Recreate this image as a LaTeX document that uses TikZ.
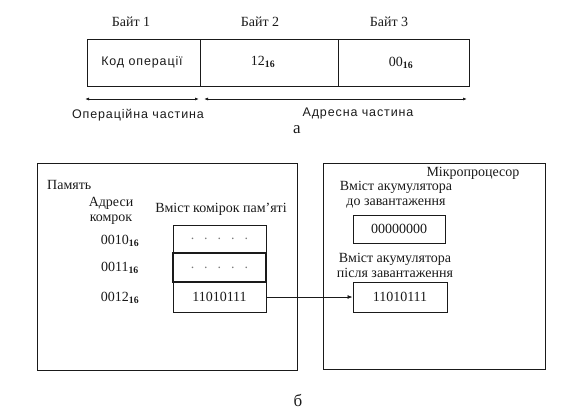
\documentclass[tikz,border=0pt]{standalone}
\usepackage{fontspec}
\setmainfont{Liberation Serif}
\newfontfamily\arialfont[LetterSpace=7]{Liberation Sans}
\usetikzlibrary{arrows.meta, positioning}
\definecolor{tinta}{HTML}{1A1A1A}
\definecolor{puntos}{HTML}{7A7A7A}
\tikzset{
  celda/.style={draw=tinta, line width=0.9pt, inner sep=0pt},
  celdaGruesa/.style={celda, line width=2pt},
  bloque/.style={draw=tinta, line width=1pt, inner sep=0pt},
  textoSerif/.style={font=\fontsize{14}{15}\selectfont, text=tinta, inner sep=0pt, align=center},
  textoSans/.style={font=\arialfont\fontsize{12.5}{13.5}\selectfont, text=tinta, inner sep=0pt},
  flechaDoble/.style={{Latex[length=4pt,width=3pt]}-{Latex[length=4pt,width=3pt]}, line width=0.8pt, tinta},
  flecha/.style={-{Latex[length=5pt,width=4pt]}, line width=0.8pt, tinta},
}
\newcommand{\hex}[1]{#1\textsubscript{\textbf{16}}}
\newcommand{\puntosCelda}{.\hspace{10pt}.\hspace{10pt}.\hspace{10pt}.\hspace{10pt}.}
\begin{document}
\begin{tikzpicture}[x=1pt, y=-1pt]
  \useasboundingbox (0,0) rectangle (579,415);
  % formato de la instruccion
  \node[celda, minimum width=113pt, minimum height=47pt] (byteA) at (143.5,62.5) {};
  \node[celda, minimum width=138pt, minimum height=47pt] (byteB) at (269,62.5) {};
  \node[celda, minimum width=131pt, minimum height=47pt] (byteC) at (403.5,62.5) {};
  \node[textoSerif] (tituloA) at (131,22) {Байт 1};
  \node[textoSerif] (tituloB) at (260,22) {Байт 2};
  \node[textoSerif] (tituloC) at (389,22) {Байт 3};
  \node[textoSans] (codOp) at (142,62) {Код операції};
  \node[textoSerif] (dirAlta) at (263,62) {\hex{12}};
  \node[textoSerif] (dirBaja) at (401,63) {\hex{00}};
  \coordinate (opIni) at (85,99);
  \coordinate (opFin) at (199,99);
  \coordinate (dirIni) at (204,99);
  \coordinate (dirFin) at (467,99);
  \draw[flechaDoble] (opIni) -- (opFin);
  \draw[flechaDoble] (dirIni) -- (dirFin);
  \node[textoSans] (parteOp) at (138,115) {Операційна частина};
  \node[textoSans] (parteDir) at (358,113) {Адресна частина};
  \node[textoSerif, font=\fontsize{17}{18}\selectfont] (etiqA) at (297,130) {а};
  % memoria y microprocesador
  \node[bloque, minimum width=260pt, minimum height=207pt] (memoria) at (167,266.5) {};
  \node[bloque, minimum width=222pt, minimum height=206pt] (cpu) at (434,266) {};
  \node[textoSerif, anchor=west] (tituloMem) at (47,185) {Память};
  \node[textoSerif] (tituloDir) at (111,211) {Адреси\\комрок};
  \node[textoSerif] (tituloCont) at (221,209) {Вміст комірок пам'яті};
  \node[celda, minimum width=93pt, minimum height=28pt] (celda1) at (219.5,239) {};
  \node[celdaGruesa, minimum width=93pt, minimum height=29pt] (celda2) at (219.5,267.5) {};
  \node[celda, textoSerif, minimum width=93pt, minimum height=30pt] (celda3) at (219.5,297) {11010111};
  \node[textoSerif, text=puntos] (puntos1) at (celda1) {\puntosCelda};
  \node[textoSerif, text=puntos] (puntos2) at (celda2) {\puntosCelda};
  \node[textoSerif] (dir1) at (120,241) {\hex{0010}};
  \node[textoSerif] (dir2) at (120,268) {\hex{0011}};
  \node[textoSerif] (dir3) at (120,298) {\hex{0012}};
  \node[textoSerif] (tituloCpu) at (473,173) {Мікропроцесор};
  \node[textoSerif] (accAntes) at (396,195) {Вміст акумулятора\\до завантаження};
  \node[celda, textoSerif, minimum width=92pt, minimum height=28pt] (regAntes) at (399,229) {00000000};
  \node[textoSerif] (accDespues) at (395,265) {Вміст акумулятора\\після завантаження};
  \node[celda, textoSerif, minimum width=94pt, minimum height=30pt] (regDespues) at (400,297) {11010111};
  \draw[flecha] (celda3.east) -- (regDespues.west);
  \node[textoSerif, font=\fontsize{17}{18}\selectfont] (etiqB) at (298,400) {б};
\end{tikzpicture}
\end{document}
